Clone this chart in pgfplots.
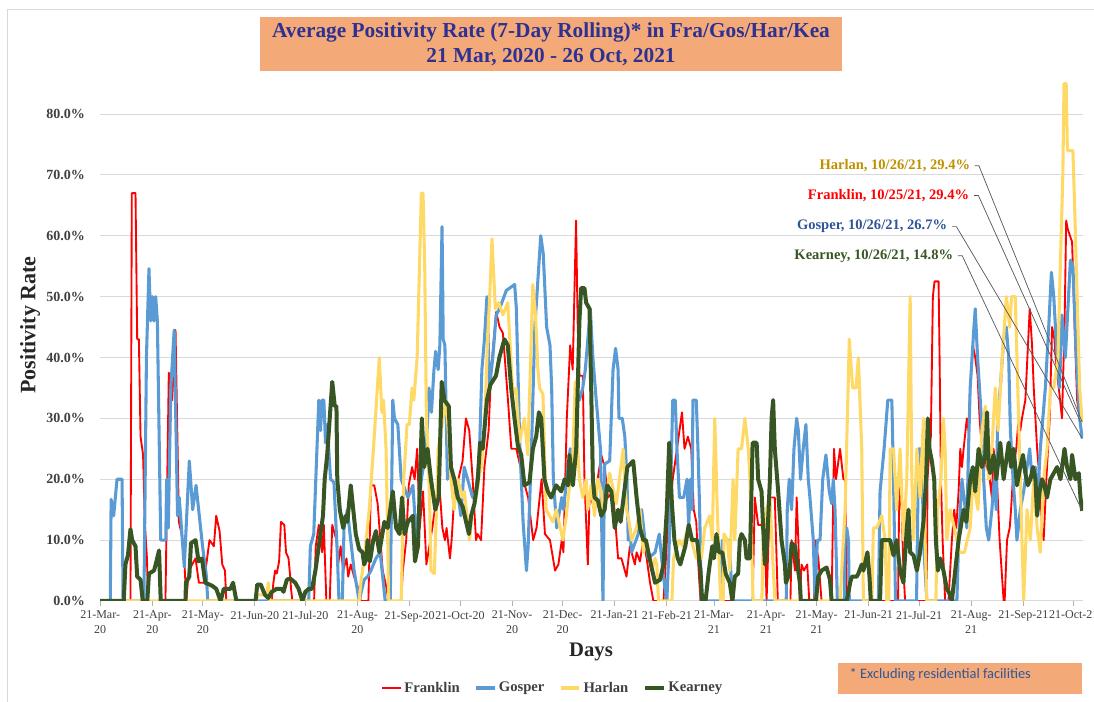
\documentclass[border=0pt]{standalone}
\usepackage{pgfplots}
\pgfplotsset{compat=1.18}
\usepackage{fontspec}
\setmainfont{Liberation Serif}
\newfontfamily\calibri{Carlito}
\definecolor{cFra}{RGB}{255,0,0}
\definecolor{cGos}{RGB}{91,155,213}
\definecolor{cHar}{RGB}{255,217,102}
\definecolor{cKea}{RGB}{55,86,35}
\definecolor{titleblue}{RGB}{46,49,146}
\definecolor{boxorange}{RGB}{244,170,120}
\definecolor{noteblue}{RGB}{47,85,151}
\definecolor{harlab}{RGB}{191,144,0}
\definecolor{txtgray}{RGB}{64,64,64}
\definecolor{lblgray}{RGB}{38,38,38}
\definecolor{gridgray}{RGB}{217,217,217}
\definecolor{leadgray}{RGB}{89,89,89}
\begin{document}
\begin{tikzpicture}
\useasboundingbox (0,0) rectangle (820.5pt,526.5pt);
\begin{scope}[x=0.75pt,y=0.75pt]
 \draw[gridgray, line width=0.75pt] (7,0) -- (7,692) -- (1094,692);
 \fill[boxorange] (260,685) rectangle (842,631);
 \node[text=titleblue, font=\bfseries\fontsize{16}{19}\selectfont] at (551,670) {Average Positivity Rate (7-Day Rolling)* in Fra/Gos/Har/Kea};
 \node[text=titleblue, font=\bfseries\fontsize{16}{19}\selectfont] at (551,645) {21 Mar, 2020 - 26 Oct, 2021};
 \node[rotate=90, text=lblgray, font=\bfseries\fontsize{16.5}{19}\selectfont] at (30,377) {Positivity Rate};
 \node[text=lblgray, font=\bfseries\fontsize{15.5}{18}\selectfont] at (591,50) {Days};
 \fill[boxorange] (838,39) rectangle (1082,8);
 \node[anchor=west, text=noteblue, font=\calibri\fontsize{10.8}{13}\selectfont] at (845,27) {* Excluding residential facilities};
\end{scope}
\begin{axis}[
 at={(75.15pt,75.75pt)}, anchor=south west,
 scale only axis, width=737.1pt, height=397.2pt,
 xmin=0, xmax=584.5, ymin=0, ymax=87,
 axis x line*=bottom, axis y line*=left,
 x axis line style={draw=gridgray, line width=0.75pt, -},
 y axis line style={draw=none},
 ymajorgrids, grid style={draw=gridgray, line width=0.75pt},
 ytick={0,10,...,80},
 yticklabel={\pgfmathprintnumber[fixed,fixed zerofill,precision=1]{\tick}\%},
 /pgf/number format/assume math mode=true,
 yticklabel style={font=\bfseries\fontsize{10.5}{12}\selectfont, text=txtgray, xshift=-4pt},
 ytick style={draw=none},
 xtick={0,31,61,92,122,153,184,214,245,275,306,337,365,396,426,457,487,518,549,579},
 xticklabels={{21-Mar-\\20},{21-Apr-\\20},{21-May-\\20},{21-Jun-20},{21-Jul-20},{21-Aug-\\20},{21-Sep-20},{21-Oct-20},{21-Nov-\\20},{21-Dec-\\20},{21-Jan-21},{21-Feb-21},{21-Mar-\\21},{21-Apr-\\21},{21-May-\\21},{21-Jun-21},{21-Jul-21},{21-Aug-\\21},{21-Sep-21},{21-Oct-21}},
 xticklabel style={font=\fontsize{9}{11.25}\selectfont, text=txtgray, align=center},
 tick align=outside, major tick length=4pt,
 xtick style={draw=gray!60, line width=0.6pt},
 every axis plot/.append style={line join=round},
 legend style={at={(0.4607,-0.1643)}, anchor=center, legend columns=4, draw=none, fill=none, font=\bfseries\fontsize{11}{13}\selectfont, text=txtgray, /tikz/every even column/.append style={column sep=9pt}},
 legend image code/.code={\draw[#1] (0pt,0pt) -- (14pt,0pt);},
]
\addplot[cFra, line width=1.4pt] coordinates {(0,0)(18,0)(18.8,67)(21,67)(22,43)(23,43)(24,27)(25.5,24)(26.5,13)(27.8,7)(28.5,0)(38.8,0)(40.8,37.5)(42.8,33)(44.8,44.5)(46.8,13)(48.4,11)(49.8,8)(51.2,0)(52.7,5)(56.7,7)(58.7,3)(61.7,3)(65,10)(67.6,9)(69,14)(71,11.5)(72.6,6)(74.2,5)(75,0)(102,0)(103,3)(104,5)(105,4.5)(106.4,6.5)(107.5,13)(109.5,12.5)(110.5,8)(112,7)(113,4)(113.5,2)(114.3,0)(127.2,0)(128.2,9)(130,12.5)(132,8)(133,12.5)(134.5,0)(136.5,0)(138,12.5)(140.5,10)(141.5,6)(143,9)(144.5,5)(146.5,7)(147.5,4)(149,6)(151,4)(153,2.5)(155,0)(159.5,0)(161,19)(163,19)(165,16)(168,5)(170,2.5)(171.5,0)(179,0)(180,5)(182,10)(183.5,19)(185.5,22)(187,20)(188.5,25)(190,12)(192,18)(194,6)(197.5,12)(201.5,20)(203.5,12)(205,10)(206,12)(208,7)(209,10)(210.5,17)(215.5,23)(217.5,30)(219.5,28)(221.5,20)(223.5,10)(224.5,11)(226.5,10)(228.5,22)(231,28)(232.5,38)(235.5,47.5)(237.5,45)(239.5,44)(242.5,33)(244.5,25)(247.5,25)(251.5,20)(254.5,17)(257.5,10)(259.5,12)(262.5,20)(264.5,11)(267.5,10)(270.5,5)(272.5,6)(274.5,10)(275.5,8)(277.5,30)(279.5,42)(281,38)(283,62.5)(284,45)(285,37)(287,37)(288,20)(290,6)(291,17)(293,16)(294.5,17.5)(298,24)(300,22)(302,17)(305,18)(308,7)(310,7)(313,4)(315,9)(317,7)(318,6)(319,8)(321,6.5)(323,10)(325,7)(327,3)(329,0)(335,0)(337.5,12)(340.5,20)(346,31)(347.5,25)(349.5,27)(351.5,25)(353,15)(354.5,13)(355.5,7)(357,0)(388,0)(389.3,17)(391.3,12.5)(393.3,12.5)(395.3,10)(396.3,0)(398.3,17)(401.2,17)(403,0)(410.5,0)(411.2,10)(413.2,5)(414.2,17)(415.2,10)(416.1,0)(417.1,6)(418.5,5)(420.5,6)(421.7,0)(424.5,0)(425.1,10)(427.1,7)(429,0)(435,0)(436.4,25)(437.6,20)(440,25)(442,20)(443,20)(444,0)(474.5,0)(475.3,20)(476.7,15)(477.7,5)(478.7,0)(491.6,0)(492,20)(493.2,25)(494,27)(495.2,50)(496.2,52.5)(498.6,52.5)(499.2,40)(500,20)(501,10)(502.5,0)(504.5,0)(505.5,5)(506.5,10)(507.9,15)(509.1,12)(510.5,18)(511.5,25)(512.5,22)(513.5,25)(515.4,30)(516.4,28)(517.4,35)(519,42)(520.4,40)(521.8,37)(523,30)(524.4,25)(525.4,20)(526.4,25)(527.4,22)(529,20)(530.3,17)(531.3,25)(533.3,20)(534.9,10)(537.3,0)(537.9,0)(539.3,10)(540.9,12)(541.7,15)(543.2,22)(544.8,25)(546.2,30)(547.2,28)(548.2,30)(550.2,33)(552.8,48)(554.2,42)(555.2,35)(557.2,25)(558.7,20)(560.1,12)(561.1,10)(562.7,20)(564.7,30)(566.1,45)(567.5,43)(568.7,38)(570.1,35)(572,30)(573.5,45)(574.5,62.5)(575.5,61)(578,59)(579.5,45)(581,33)(583,29.4)};
\addplot[cGos, line width=2.3pt] coordinates {(0,0)(6,0)(6.5,16.7)(8,14)(10,20)(13,20)(13.6,0)(26,0)(27.5,40)(29,54.6)(30,46)(31,50)(32,46)(33,50)(34,46)(36,10)(39,10)(39.5,20)(40.5,12)(42,35)(44,44.5)(46,14)(47,17)(50,5.6)(53,23)(55,15)(57,19)(61,8.7)(63,4.5)(64,0)(124,0)(125,9)(127,11)(130,33)(131,28)(132,33)(133,33)(134,26)(135,29)(137,20)(139,19.5)(141,8)(142,0)(144,0)(145,12)(147,15)(149,10)(151,5)(154,0)(157,3.5)(159,4)(161,5)(164,7)(166.5,8)(169.5,0)(172.5,0)(174,33)(175,30)(177,29)(179,20)(183,17)(186,19)(188,10)(191,20)(194,25)(195.5,35)(197,31)(198.5,38)(199.5,41)(201,38)(202,42)(203.3,61.5)(204,43)(205,42)(206.5,20)(208.5,22)(210.5,20)(212.5,18)(214.5,14)(216.5,22)(218.5,20)(221.5,17)(223.5,18)(225.5,24)(227,38)(228.5,43)(230,50)(231.5,35)(233.5,40)(235.5,47)(237.5,48)(241.5,51)(246.5,52)(247.5,48)(249.5,26)(251.5,13)(253.5,5)(254.5,9)(256.5,25)(258.5,45)(262,60)(263.5,57)(265.5,45)(267.5,42)(268.5,35)(269.5,20)(271.5,12)(274.5,17)(275.5,15)(277.5,20)(279.5,25)(281.5,24)(283,33)(285,33)(287,35)(288.5,38)(291.5,48)(293,40)(295,33)(297.5,25)(298.5,8)(299,0)(300,22.5)(303,23)(305,38)(306.5,41.5)(308,38)(308.5,30)(310.5,30)(312,27)(313.3,20)(314,10)(315,12)(316,8)(320,11)(322,15)(324,10)(326,7)(330,8)(332.5,11)(335,4)(337,0)(338.5,10)(340.5,33)(342,33)(343,25)(344.5,17)(347,17)(349,20)(350,12)(351,20)(352,15)(352.5,33)(354.5,33)(355.5,25)(356.5,15)(357.5,0)(369,0)(370,10)(374,10)(376,0)(408,0)(408.6,15)(409.8,20)(411.2,15)(412.6,25)(414.2,30)(415.2,28)(416.5,20)(418.1,25)(419.7,29)(421.1,20)(422.1,17)(424.1,10)(425.1,0)(426.5,10)(428.1,10)(429.7,20)(431.6,24)(433.6,18)(435,16)(436,20)(437,15)(438.4,0)(442.5,0)(443,12)(444,12)(445,10)(445.5,0)(462.8,0)(463.8,18)(466.2,25)(468.4,33)(470.8,33)(471.8,20)(473,0)(485.5,0)(486.7,25)(488.6,25)(489.6,10)(491.6,0)(509.5,0)(510.5,10)(512.5,20)(514.5,15)(515.4,12)(516.4,25)(517.4,35)(519.4,44)(520.4,48)(521.8,40)(523.4,33)(524.4,28)(525.4,20)(527,12)(528.4,10)(530.3,15)(531.7,20)(532.9,15)(533.7,30)(535.3,35)(537.3,43)(538.9,45)(540.3,40)(541.3,28)(542.9,20)(544.2,15)(545.2,10)(547.2,15)(549.2,18)(551.2,22)(552.8,25)(554.2,20)(556.2,22)(557.2,15)(559.1,25)(562.1,35)(564.1,45)(565.7,54)(567.1,50)(569.1,40)(570.5,35)(572,47)(574,40)(577,56)(578.5,55)(580.5,40)(582.5,30)(584,26.7)};
\addplot[cHar, line width=2.3pt] coordinates {(0,0)(93,0)(93.5,1)(99,1)(100,3)(101,0)(154,0)(155,3)(157,7)(160,15)(162.5,25)(166,40)(167.5,31)(168.5,33)(170,25)(171,10)(171.5,0)(179,0)(180.5,20)(182.5,29)(183.8,29)(185.5,35)(186.5,33)(188.5,40)(191,67)(192,67)(193,55)(194,30)(195,25)(196,15)(196.7,5)(198.7,4.5)(200,15)(201,25)(205.7,33)(207,28)(208.6,20)(210.5,15)(212.6,20)(215.5,17)(216.6,18)(219.6,10)(221.6,15)(223.6,17)(225.6,21)(226.6,22)(228.5,28)(230.5,44)(231.5,49)(233,59.5)(235,48)(237,49)(239.5,47)(242.4,49)(243.4,44)(245.4,34)(247.3,35)(249.3,26)(252.3,30)(254.3,24)(257.3,52)(258.9,47)(260.3,38)(261.3,35)(263.3,34)(265.2,15)(267.2,14)(269.2,13)(271.2,15)(275.2,10)(277.2,14)(281.1,24)(282.5,36)(284,25)(285,20)(287,17)(289,20)(290,15)(292,19)(294,14)(296,20)(298,18)(299,15)(301,17)(303,21)(305,18.5)(307,16)(311,25)(312,20)(313,15)(314.5,13)(316,10)(319,12)(321,15)(323,8)(325,10)(328,5)(330,7)(331,6)(332,0)(340,0)(341,7)(344.3,10)(346.5,9)(349.5,12)(351.5,10)(354.5,7)(357.5,7)(359.5,12)(362.5,14)(364,10)(365.5,30)(367,15)(368,7)(369,0)(370.5,0)(371,11)(373,10)(374.4,5)(376.4,20)(377.4,10)(379.4,25)(381.4,25)(383.4,30)(385.4,25)(386.4,20)(387.4,10)(388.3,0)(393.5,0)(394.3,10)(396.3,15)(398.3,17)(400.3,5)(401.3,0)(440,0)(443,15)(445.5,43)(447.5,35)(449.5,35)(450.9,40)(452.9,25)(453.9,0)(459,0)(459.8,12)(461.8,12)(464.8,14)(466.8,10)(467.8,0)(469,0)(469.8,25)(471.8,25)(473.7,15)(475.7,25)(477.7,10)(479.7,20)(481.7,50)(482.7,20)(483.7,10)(485.7,25)(487.6,17)(489.6,30)(490.6,10)(491.6,0)(497,0)(498,15)(500,20)(501.5,30)(502.5,25)(503.5,10)(505.5,15)(508,12)(511,8)(514,8)(517.4,12)(519,20)(522,15)(524.4,28)(526.4,32)(528.4,20)(530.3,25)(532.3,35)(534,28)(536,38)(538.9,50)(540.9,45)(542,50)(544.2,50)(546.2,30)(549.2,0)(551.2,15)(553.2,10)(555.2,20)(557.2,12)(559.1,8)(561.1,20)(563.1,25)(565.1,35)(567.1,35)(569.6,40)(571,55)(572.5,70)(573.2,85)(574.5,85)(575.2,74)(578.5,74)(579.5,65)(581,50)(582.5,35)(584,29.4)};
\addplot[cKea, line width=3pt] coordinates {(0,0)(14,0)(15,6)(16.5,7.5)(18,11.8)(19,10)(21,9)(22,4)(24,3.5)(25.3,0)(28,0)(29,4.5)(32,5)(33,6)(35,8.3)(36,0)(50.7,0)(51,3)(53,4)(54,9.5)(56.7,10)(58.5,6.5)(60.5,7)(62.5,3)(66.6,2.5)(69,2)(71.6,0)(73.5,2)(77.5,2)(79,3)(81,0)(92.4,0)(93.4,2.7)(95.5,2.7)(98,1)(100,0.5)(102,1.5)(105,2)(108,2)(109,1.5)(111,3.5)(113,3.7)(116,3)(118,2)(120.3,0)(122,1.5)(124,2)(126,2)(128,5)(130,9)(132.5,14)(133.5,20)(135,24)(136.5,30)(138,36)(139.5,32)(140.5,32)(141,20)(142.5,15)(144.5,12)(146,14)(147,13)(149,19)(150.5,15)(152,11)(154,8.5)(156,8)(157,6)(158.4,7)(159,10)(160.4,6.5)(162.4,10)(164,11.5)(166,8)(169,13)(171,12)(174,18)(176,12)(178,11)(179.5,17)(181,11)(183,13)(186,14)(187.2,6.5)(189,9)(191.3,30)(192.7,22)(194.7,25)(196.7,20)(199.3,15)(201.3,17)(203.1,36)(204.7,33)(207.3,32)(208.6,22)(210.6,20)(212.6,17)(215.6,15.5)(217.6,13)(219.3,11)(220.6,14)(222.6,16)(224.6,20)(225.9,26)(227.5,25)(230,33)(232,35.5)(235.4,37)(237.4,40)(240.4,43)(242.4,42)(244.4,35)(246.4,30)(248.4,25.5)(250.4,24)(252.3,19)(255.3,19.5)(257.3,25)(259.3,27)(260.9,31)(262.3,30)(264.2,20)(266.2,18)(268.2,17)(271.2,19)(274.2,18)(276.2,20)(278.2,19)(279.1,24)(281.1,19)(283.1,25)(285,46)(286,51.4)(288,51.4)(289,49)(291,48)(292,35)(293,20)(294,17)(296,16.5)(298,14)(300,15)(301.5,19)(304,18)(306,12)(308,15)(309.5,13)(313.5,22)(317,23)(319,17)(321,12)(323,10)(324.5,10)(327.5,6)(330,3)(333,3.5)(335,6)(337,15)(338.4,26)(340,16)(341.5,10)(343.5,7)(345,6)(348,9)(350,12.5)(352,10)(355,10)(357,5)(358,0)(360,0)(362,5)(364,9)(365,7)(366.5,11)(368,8)(370,8)(372,4.5)(374.4,3)(376,0)(377.4,4)(379.4,4.5)(380.4,10)(381.4,11)(383.4,10)(384.4,7)(386.4,7)(388,26)(390.4,26)(391.3,20)(393.3,18)(394.3,12)(395.3,6)(396.7,10)(398.3,20)(399.3,30)(400.2,33)(401.2,25)(403.2,18)(405.2,10)(407.2,6)(407.8,3)(409.2,4)(410.2,5.5)(411.2,9.5)(413.2,9)(414.1,7)(416.1,3)(416.7,0)(425.7,0)(427,4)(429,5)(432,5.5)(434,3.5)(435,0)(444,0)(446,3)(447,4)(449.9,4)(450.9,4.5)(452.9,6)(453.9,5)(456.3,8)(457.5,4)(458.3,0)(463.8,0)(464.8,10)(467.8,10)(469.8,10)(471.8,7.5)(473.7,10)(475.7,5)(477.7,3)(479.7,12)(480.7,15)(481.7,8)(483.7,7.5)(485.7,5)(487.6,8)(489.6,13)(491.2,20)(492.2,30)(493.2,25)(494.6,23)(496,20)(497,10)(498.2,5)(499.6,7)(501.5,5)(503.5,2)(505.5,1)(506.5,0)(508.5,5)(510.5,10)(513.5,15)(515.1,13)(517.4,20)(519,22)(520.4,18)(522.4,25)(524.4,22)(526.4,24)(527.4,31)(528.4,22)(529.3,21)(531.3,24)(532.9,20)(535.3,26)(537.3,20)(538.3,22)(540.3,26)(541.7,22)(543.2,25)(545.2,19)(547.2,22)(548.8,24)(550.2,21)(551.6,19)(553.2,20)(554.8,22)(556.2,20)(557.2,14)(558.7,18)(560.1,20)(561.5,19)(563.1,17)(565.1,20)(567.1,21)(569.1,22)(571.1,20)(573.5,25)(575,22)(577,20)(578,24)(580,20)(582,21)(583,17)(584,14.8)};
\legend{Franklin,Gosper,Harlan,Kearney}
\draw[leadgray, line width=0.55pt] (axis cs:520,71.5) -- (axis cs:522.6,71.5) -- (axis cs:584,29.4);
\draw[leadgray, line width=0.55pt] (axis cs:519.7,66.6) -- (axis cs:522.3,66.6) -- (axis cs:583,29.4);
\draw[leadgray, line width=0.55pt] (axis cs:506.6,61.5) -- (axis cs:509.2,61.5) -- (axis cs:584,26.7);
\draw[leadgray, line width=0.55pt] (axis cs:510.1,56.7) -- (axis cs:512.7,56.7) -- (axis cs:584,14.8);
\node[anchor=east, inner sep=0pt, text=harlab, font=\bfseries\fontsize{10.9}{13}\selectfont] at (axis cs:517.5,71.5) {Harlan, 10/26/21, 29.4\%};
\node[anchor=east, inner sep=0pt, text=cFra, font=\bfseries\fontsize{10.9}{13}\selectfont] at (axis cs:516.9,66.6) {Franklin, 10/25/21, 29.4\%};
\node[anchor=east, inner sep=0pt, text=noteblue, font=\bfseries\fontsize{10.9}{13}\selectfont] at (axis cs:503.8,61.5) {Gosper, 10/26/21, 26.7\%};
\node[anchor=east, inner sep=0pt, text=cKea, font=\bfseries\fontsize{10.9}{13}\selectfont] at (axis cs:507.4,56.7) {Kearney, 10/26/21, 14.8\%};
\end{axis}
\end{tikzpicture}
\end{document}
